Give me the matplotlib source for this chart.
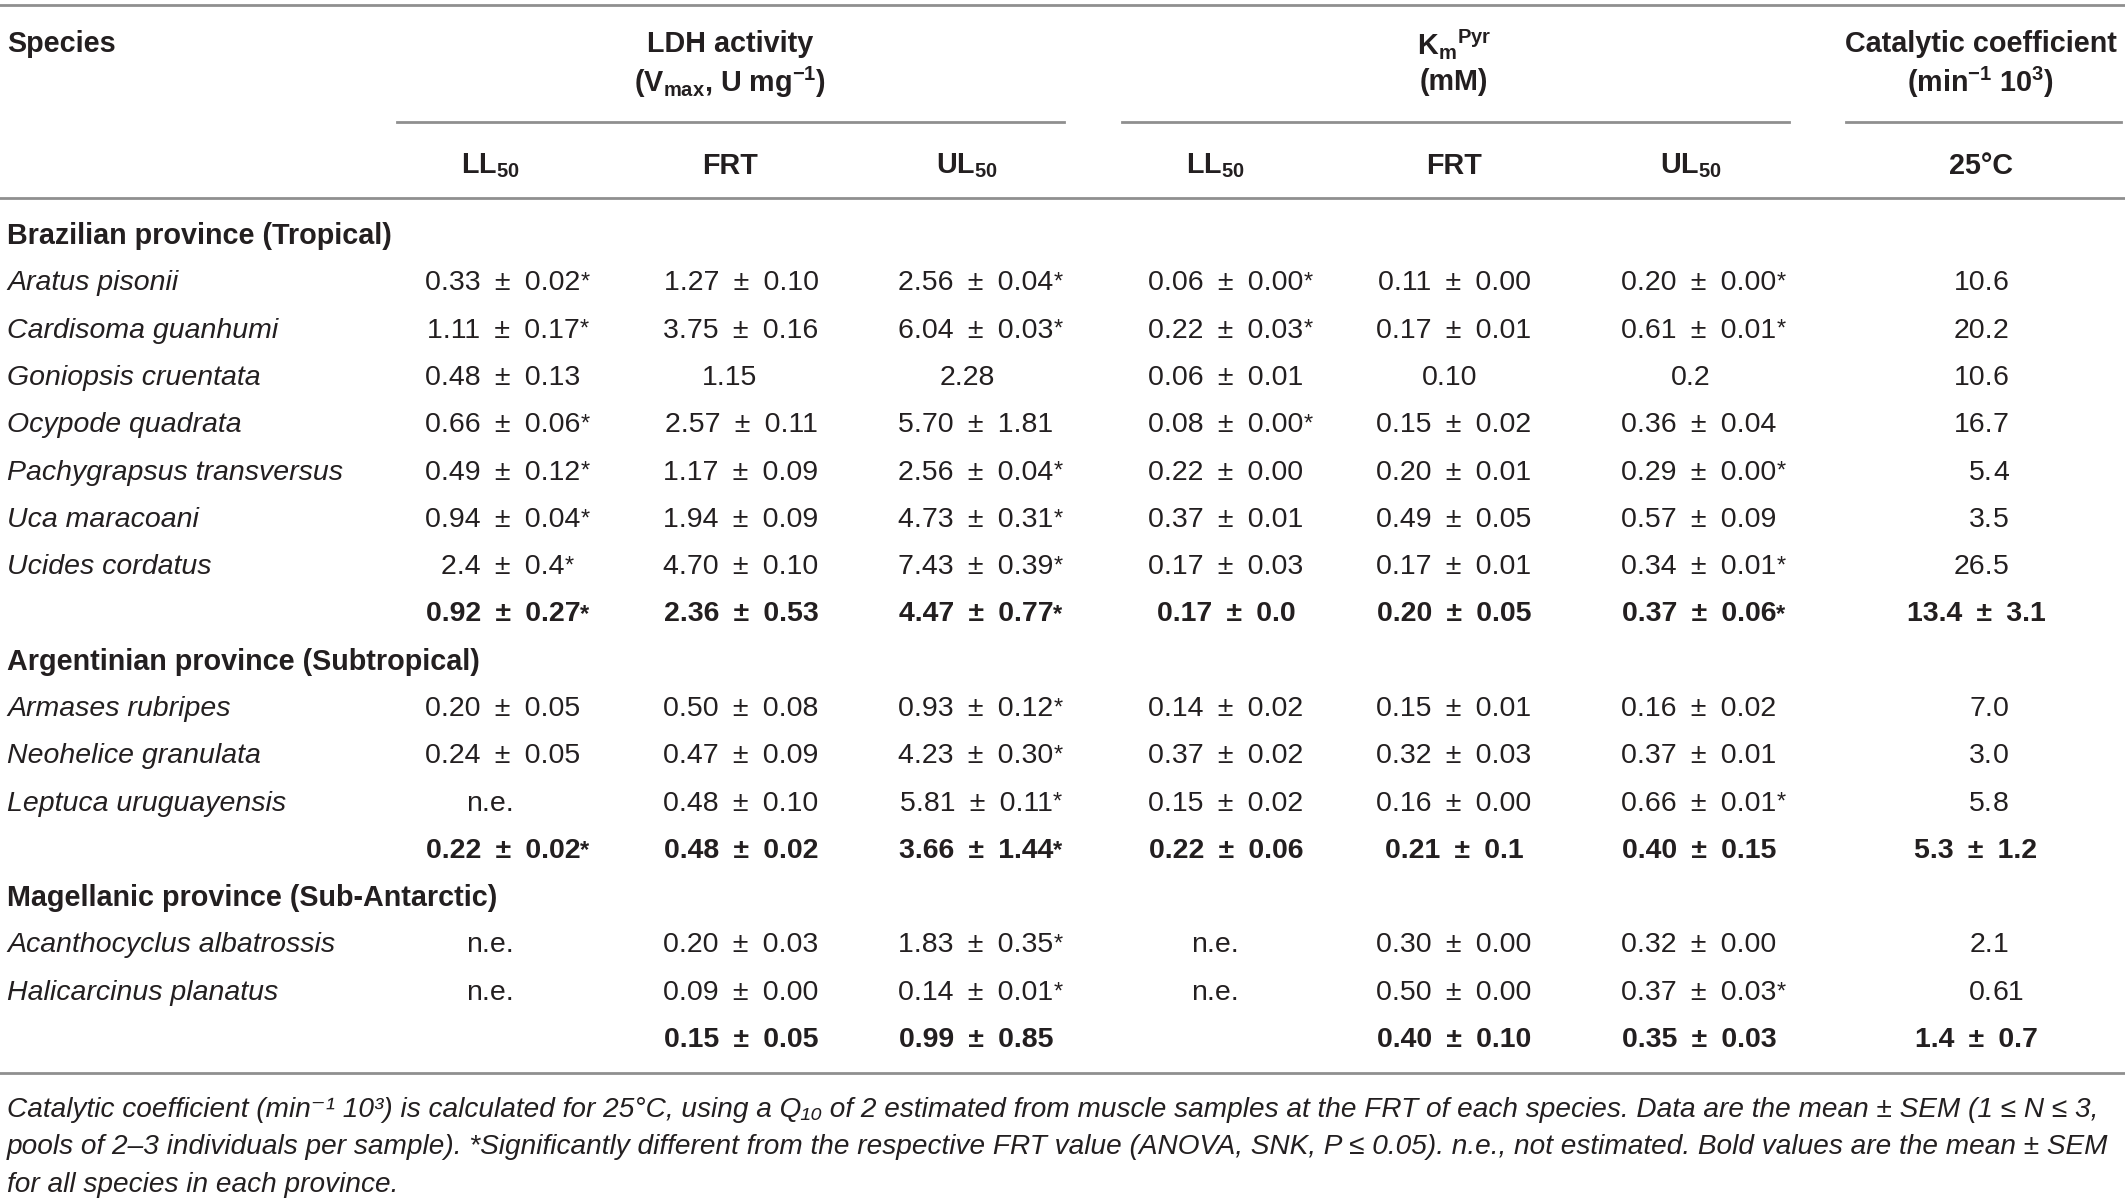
import matplotlib
matplotlib.use("Agg")
import matplotlib.pyplot as plt

# Fuente y colores
plt.rcParams['font.family'] = ['Liberation Sans', 'DejaVu Sans']
plt.rcParams['mathtext.fontset'] = 'custom'
plt.rcParams['mathtext.rm'] = 'Liberation Sans'
plt.rcParams['mathtext.it'] = 'Liberation Sans:italic'
plt.rcParams['mathtext.bf'] = 'Liberation Sans:bold'
texto = "#231f20"
linea = "#8f8f8f"

# Datos de la tabla
provincias = ["Brazilian province (Tropical)",
              "Argentinian province (Subtropical)",
              "Magellanic province (Sub-Antarctic)"]
especies = [
    ["Aratus pisonii", "Cardisoma guanhumi", "Goniopsis cruentata", "Ocypode quadrata",
     "Pachygrapsus transversus", "Uca maracoani", "Ucides cordatus"],
    ["Armases rubripes", "Neohelice granulata", "Leptuca uruguayensis"],
    ["Acanthocyclus albatrossis", "Halicarcinus planatus"],
]

ldh_ll50 = ["0.33 ± 0.02*", "1.11 ± 0.17*", "0.48 ± 0.13", "0.66 ± 0.06*", "0.49 ± 0.12*",
            "0.94 ± 0.04*", "2.4 ± 0.4*", "0.20 ± 0.05", "0.24 ± 0.05", "n.e.", "n.e.", "n.e."]
ldh_frt = ["1.27 ± 0.10", "3.75 ± 0.16", "1.15", "2.57 ± 0.11", "1.17 ± 0.09",
           "1.94 ± 0.09", "4.70 ± 0.10", "0.50 ± 0.08", "0.47 ± 0.09", "0.48 ± 0.10",
           "0.20 ± 0.03", "0.09 ± 0.00"]
ldh_ul50 = ["2.56 ± 0.04*", "6.04 ± 0.03*", "2.28", "5.70 ± 1.81", "2.56 ± 0.04*",
            "4.73 ± 0.31*", "7.43 ± 0.39*", "0.93 ± 0.12*", "4.23 ± 0.30*", "5.81 ± 0.11*",
            "1.83 ± 0.35*", "0.14 ± 0.01*"]
km_ll50 = ["0.06 ± 0.00*", "0.22 ± 0.03*", "0.06 ± 0.01", "0.08 ± 0.00*", "0.22 ± 0.00",
           "0.37 ± 0.01", "0.17 ± 0.03", "0.14 ± 0.02", "0.37 ± 0.02", "0.15 ± 0.02",
           "n.e.", "n.e."]
km_frt = ["0.11 ± 0.00", "0.17 ± 0.01", "0.10", "0.15 ± 0.02", "0.20 ± 0.01",
          "0.49 ± 0.05", "0.17 ± 0.01", "0.15 ± 0.01", "0.32 ± 0.03", "0.16 ± 0.00",
          "0.30 ± 0.00", "0.50 ± 0.00"]
km_ul50 = ["0.20 ± 0.00*", "0.61 ± 0.01*", "0.2", "0.36 ± 0.04", "0.29 ± 0.00*",
           "0.57 ± 0.09", "0.34 ± 0.01*", "0.16 ± 0.02", "0.37 ± 0.01", "0.66 ± 0.01*",
           "0.32 ± 0.00", "0.37 ± 0.03*"]
cat_25 = ["10.6", "20.2", "10.6", "16.7", "5.4", "3.5", "26.5", "7.0", "3.0", "5.8",
          "2.1", "0.61"]

# Medias por provincia (negrita)
medias = [
    ["0.92 ± 0.27*", "2.36 ± 0.53", "4.47 ± 0.77*", "0.17 ± 0.0", "0.20 ± 0.05",
     "0.37 ± 0.06*", "13.4 ± 3.1"],
    ["0.22 ± 0.02*", "0.48 ± 0.02", "3.66 ± 1.44*", "0.22 ± 0.06", "0.21 ± 0.1",
     "0.40 ± 0.15", "5.3 ± 1.2"],
    ["", "0.15 ± 0.05", "0.99 ± 0.85", "", "0.40 ± 0.10", "0.35 ± 0.03", "1.4 ± 0.7"],
]

subcols = ["LL$_{\\mathbf{50}}$", "FRT", "UL$_{\\mathbf{50}}$",
           "LL$_{\\mathbf{50}}$", "FRT", "UL$_{\\mathbf{50}}$", "25°C"]

nota = [
    "Catalytic coefficient (min⁻¹ 10³) is calculated for 25°C, using a Q₁₀ of 2 estimated "
    "from muscle samples at the FRT of each species. Data are the mean ± SEM (1 ≤ N ≤ 3,",
    "pools of 2–3 individuals per sample). *Significantly different from the respective FRT "
    "value (ANOVA, SNK, P ≤ 0.05). n.e., not estimated. Bold values are the mean ± SEM",
    "for all species in each province.",
]

columnas = [ldh_ll50, ldh_frt, ldh_ul50, km_ll50, km_frt, km_ul50, cat_25]
xcol = [503, 741, 976, 1226, 1454, 1699, 1976]
xcorto = [-13, -11, -9, -11, -4, -8, 0]   # desplazamiento de valores sin ±
xsub = [490, 730, 967, 1215, 1454, 1691, 1981]

# Figura en coordenadas de pixel
fig = plt.figure(figsize=(21.25, 12.02), dpi=100)
ax = fig.add_axes([0, 0, 1, 1])
ax.set_xlim(0, 2125)
ax.set_ylim(1202, 0)
ax.axis("off")

fs = 20.5      # texto normal
fb = 20.7      # texto en negrita
dy = 3         # ajuste vertical


def celda(j, y, valor, peso):
    # valor numerico: centrado sin el asterisco, que va en superindice
    if valor == "":
        return
    marca = valor.endswith("*")
    v = valor.rstrip("*")
    x = xcol[j]
    if "±" not in v:
        if j == 6:
            ent, dec = v.split(".")
            ax.text(1993, y, ent + ".", fontsize=fs, fontweight=peso, color=texto,
                    ha="right", va="center")
            ax.text(1993, y, dec, fontsize=fs, fontweight=peso, color=texto,
                    ha="left", va="center")
            return
        x = x + xcorto[j]
    v = v.replace(" ± ", "\u2002±\u2002")
    t = ax.text(x, y, v, fontsize=fs, fontweight=peso, color=texto,
                ha="center", va="center")
    if marca:
        ax.annotate("*", xy=(1.0, 0.95), xycoords=t, fontsize=17, fontweight=peso,
                    color=texto, ha="left", va="top")


# Cabecera
ax.axhline(5, color=linea, lw=2)
ax.text(7, 41 + dy, "Species", fontsize=fb, fontweight="bold", color=texto, va="center")
ax.text(730, 41 + dy, "LDH activity", fontsize=fb, fontweight="bold", color=texto,
        ha="center", va="center")
ax.text(730, 79 + dy, "(V$_{\\mathbf{max}}$, U mg$^{\\mathbf{-1}}$)", fontsize=fb,
        fontweight="bold", color=texto, ha="center", va="center")
ax.text(1454, 41 + dy, "K$_{\\mathbf{m}}$$^{\\mathbf{Pyr}}$", fontsize=fb,
        fontweight="bold", color=texto, ha="center", va="center")
ax.text(1454, 79 + dy, "(mM)", fontsize=fb, fontweight="bold", color=texto,
        ha="center", va="center")
ax.text(1981, 41 + dy, "Catalytic coefficient", fontsize=fb, fontweight="bold",
        color=texto, ha="center", va="center")
ax.text(1981, 79 + dy, "(min$^{\\mathbf{-1}}$ 10$^{\\mathbf{3}}$)", fontsize=fb,
        fontweight="bold", color=texto, ha="center", va="center")

ax.plot([397, 1064], [122, 122], color=linea, lw=2)
ax.plot([1122, 1789], [122, 122], color=linea, lw=2)
ax.plot([1846, 2121], [122, 122], color=linea, lw=2)

for x, s in zip(xsub, subcols):
    ax.text(x, 163 + dy, s, fontsize=fb, fontweight="bold", color=texto,
            ha="center", va="center")
ax.axhline(198, color=linea, lw=2)

# Filas de datos
y = 233 + dy
paso = 47.3
k = 0
for p, nombre in enumerate(provincias):
    ax.text(7, y, nombre, fontsize=fb, fontweight="bold", color=texto, va="center")
    y += paso
    for esp in especies[p]:
        ax.text(7, y, esp, fontsize=fs, style="italic", color=texto, va="center")
        for j, col in enumerate(columnas):
            celda(j, y, col[k], "normal")
        k += 1
        y += paso
    for j, val in enumerate(medias[p]):
        celda(j, y, val, "bold")
    y += paso

ax.axhline(1073, color=linea, lw=2)

# Nota al pie
for i, linea_nota in enumerate(nota):
    ax.text(7, 1107 + dy + i * 37.3, linea_nota, fontsize=20.2, style="italic",
            color=texto, va="center")

fig.savefig("out.png", dpi=100, facecolor="white")
